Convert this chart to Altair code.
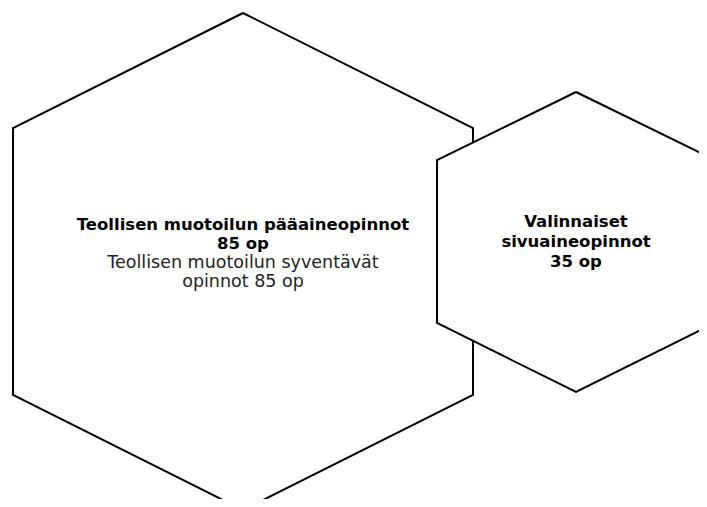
import altair as alt
import pandas as pd

# Hexagon outlines (vertex order), in picture coordinates
big_x = [243, 473, 473, 243, 13, 13, 243]
big_y = [13, 128, 395, 510, 395, 128, 13]
small_x = [576, 715, 715, 576, 437, 437, 576]
small_y = [92, 160, 323, 392, 323, 160, 92]

# Small hexagon white fill (left, middle, right columns)
fill_x = [437, 576, 715]
fill_top = [160, 92, 160]
fill_bot = [323, 392, 323]

# Labels
labels = [
    "Teollisen muotoilun pääaineopinnot",
    "85 op",
    "Teollisen muotoilun syventävät",
    "opinnot 85 op",
    "Valinnaiset",
    "sivuaineopinnot",
    "35 op",
]
label_x = [243, 243, 243, 243, 576, 576, 576]
label_y = [225, 244, 263, 282, 222, 242, 262]
label_bold = [True, True, False, False, True, True, True]

W, H = 691, 491
xs = alt.Scale(domain=[8, 8 + W], nice=False, zero=False)
ys = alt.Scale(domain=[8, 8 + H], nice=False, zero=False, reverse=True)

big = pd.DataFrame({"x": big_x, "y": big_y, "i": range(len(big_x))})
small = pd.DataFrame({"x": small_x, "y": small_y, "i": range(len(small_x))})
fill = pd.DataFrame({"x": fill_x, "y": fill_top, "y2": fill_bot})
txt = pd.DataFrame({"x": label_x, "y": label_y, "t": labels, "b": label_bold})

big_line = alt.Chart(big).mark_line(color="black", strokeWidth=2, clip=True, strokeJoin="miter").encode(
    x=alt.X("x:Q", scale=xs, axis=None),
    y=alt.Y("y:Q", scale=ys, axis=None),
    order=alt.Order("i:Q"),
)
small_fill = alt.Chart(fill).mark_area(color="white", opacity=1, clip=True).encode(
    x=alt.X("x:Q", scale=xs, axis=None),
    y=alt.Y("y:Q", scale=ys, axis=None),
    y2="y2:Q",
)
small_line = alt.Chart(small).mark_line(color="black", strokeWidth=2, clip=True, strokeJoin="miter").encode(
    x=alt.X("x:Q", scale=xs, axis=None),
    y=alt.Y("y:Q", scale=ys, axis=None),
    order=alt.Order("i:Q"),
)
bold_text = alt.Chart(txt[txt.b]).mark_text(
    font="DejaVu Sans", fontSize=16.5, fontWeight="bold", color="black", align="center", baseline="middle"
).encode(
    x=alt.X("x:Q", scale=xs, axis=None),
    y=alt.Y("y:Q", scale=ys, axis=None),
    text="t:N",
)
norm_text = alt.Chart(txt[~txt.b]).mark_text(
    font="DejaVu Sans", fontSize=17.5, fontWeight="normal", color="#222222", align="center", baseline="middle"
).encode(
    x=alt.X("x:Q", scale=xs, axis=None),
    y=alt.Y("y:Q", scale=ys, axis=None),
    text="t:N",
)

chart = alt.layer(big_line, small_fill, small_line, bold_text, norm_text).properties(
    width=W, height=H, padding=0, autosize=alt.AutoSizeParams(type="none"), background="white"
).configure_view(stroke=None)

chart.save("out.html", embed_options={"renderer": "svg", "actions": False})
